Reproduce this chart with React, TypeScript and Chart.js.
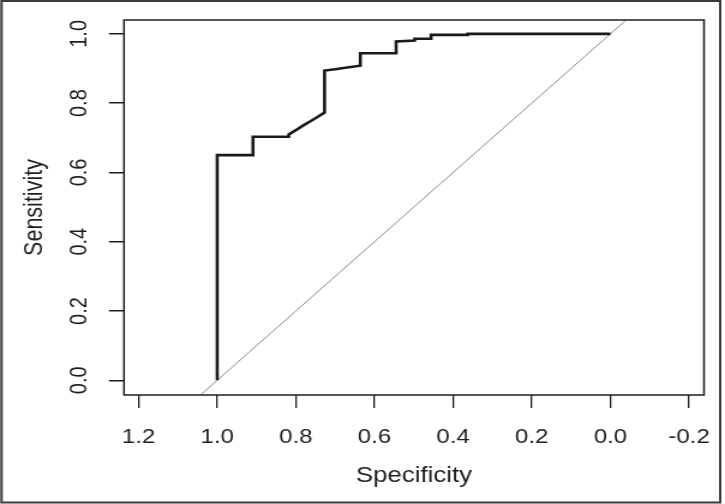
import React, { useEffect, useRef } from "react";
import { Chart, registerables } from "chart.js";

Chart.register(...registerables);

// ROC curve (specificity on x, sensitivity on y)
const specificity = [1.0, 1.0, 0.909, 0.909, 0.818, 0.818, 0.80, 0.782, 0.764, 0.745, 0.727, 0.727, 0.70, 0.67, 0.636, 0.636, 0.545, 0.545, 0.498, 0.498, 0.456, 0.456, 0.363, 0.363, 0.0];
const sensitivity = [0.0, 0.65, 0.65, 0.703, 0.703, 0.710, 0.722, 0.735, 0.747, 0.760, 0.773, 0.894, 0.898, 0.903, 0.908, 0.944, 0.944, 0.978, 0.981, 0.986, 0.986, 0.997, 0.997, 1.0, 1.0];

const xTicks = [1.2, 1.0, 0.8, 0.6, 0.4, 0.2, 0.0, -0.2];
const yTicks = [0.0, 0.2, 0.4, 0.6, 0.8, 1.0];
const xLimits = [-0.238, 1.237];
const yLimits = [-0.0425, 1.04];
const xTitle = "Specificity";
const yTitle = "Sensitivity";

const CANVAS_W = 604;
const CANVAS_H = 504;
const FONT = '"Liberation Sans", Arial, sans-serif';
const INK = "#1e1e1e";

const fmt = (v: number) => (Math.abs(v) < 1e-9 ? 0 : v).toFixed(1);

const framePlugin = {
  id: "rFrame",
  afterDraw(chart: any) {
    const { ctx, chartArea } = chart;
    ctx.save();
    // plot box
    ctx.strokeStyle = INK;
    ctx.lineWidth = 1.5;
    ctx.strokeRect(chartArea.left, chartArea.top, chartArea.right - chartArea.left, chartArea.bottom - chartArea.top);
    // outer image frame
    ctx.strokeStyle = "#3a3a3a";
    ctx.lineWidth = 2;
    ctx.strokeRect(1.3, 1, 598.7, 501.5);
    // rotated y tick labels (R style)
    const ys = chart.scales.y;
    ctx.fillStyle = INK;
    ctx.font = `20px ${FONT}`;
    ctx.textAlign = "center";
    ctx.textBaseline = "alphabetic";
    for (const v of yTicks) {
      const py = ys.getPixelForValue(v);
      ctx.save();
      ctx.translate(chartArea.left - 31.8, py);
      ctx.rotate(-Math.PI / 2);
      ctx.fillText(fmt(v), 0, 0);
      ctx.restore();
    }
    ctx.restore();
  },
};

export default function App() {
  const ref = useRef<HTMLCanvasElement | null>(null);

  useEffect(() => {
    document.body.style.margin = "0";
    document.body.style.background = "#ffffff";
    const canvas = ref.current;
    if (!canvas) return;

    const roc = specificity.map((s, i) => ({ x: s, y: sensitivity[i] }));
    const diag = [
      { x: 1 - yLimits[0], y: yLimits[0] },
      { x: 1 - yLimits[1], y: yLimits[1] },
    ];

    const chart = new Chart(canvas, {
      type: "line",
      data: {
        datasets: [
          {
            data: roc,
            borderColor: "#1a1a1a",
            borderWidth: 2.6,
            pointRadius: 0,
            tension: 0,
            fill: false,
          },
          {
            data: diag,
            borderColor: "#8a8a8a",
            borderWidth: 1,
            pointRadius: 0,
            tension: 0,
            fill: false,
          },
        ],
      },
      options: {
        responsive: false,
        devicePixelRatio: 1,
        animation: false,
        events: [],
        layout: { padding: { left: 0, top: 20, right: 17.5, bottom: 0 } },
        plugins: { legend: { display: false }, tooltip: { enabled: false } },
        scales: {
          x: {
            type: "linear",
            reverse: true,
            min: xLimits[0],
            max: xLimits[1],
            border: { display: false },
            grid: {
              drawOnChartArea: false,
              drawTicks: true,
              tickLength: 13,
              tickColor: INK,
              tickWidth: 1.3,
              lineWidth: 1.3,
              color: INK,
            },
            ticks: {
              padding: 17,
              color: INK,
              font: { family: FONT, size: 20 },
              maxRotation: 0,
              minRotation: 0,
              autoSkip: false,
              callback: (v: any) => fmt(Number(v)),
            },
            afterBuildTicks: (scale: any) => {
              scale.ticks = xTicks.map((value) => ({ value }));
            },
            afterFit: (scale: any) => {
              scale.height = 109;
              scale.paddingLeft = 0;
              scale.paddingRight = 0;
            },
            title: {
              display: true,
              text: xTitle,
              color: INK,
              font: { family: FONT, size: 21.5 },
              padding: { top: 0, bottom: 15.2 },
            },
          },
          y: {
            type: "linear",
            min: yLimits[0],
            max: yLimits[1],
            border: { display: false },
            grid: {
              drawOnChartArea: false,
              drawTicks: true,
              tickLength: 12.5,
              tickColor: INK,
              tickWidth: 1.5,
              lineWidth: 1.5,
              color: INK,
            },
            ticks: {
              display: false,
              autoSkip: false,
            },
            afterBuildTicks: (scale: any) => {
              scale.ticks = yTicks.map((value) => ({ value }));
            },
            afterFit: (scale: any) => {
              scale.width = 103.3;
              scale.paddingTop = 0;
              scale.paddingBottom = 0;
            },
            title: {
              display: true,
              text: yTitle,
              color: INK,
              font: { family: FONT, size: 21.5 },
              padding: { top: 15.75, bottom: 0 },
            },
          },
        },
      },
      plugins: [framePlugin],
    });

    return () => chart.destroy();
  }, []);

  return (
    <div style={{ width: 725, height: 504, position: "relative", background: "#fff" }}>
      <canvas
        ref={ref}
        width={CANVAS_W}
        height={CANVAS_H}
        style={{ width: "725px", height: "504px", display: "block" }}
      />
    </div>
  );
}
